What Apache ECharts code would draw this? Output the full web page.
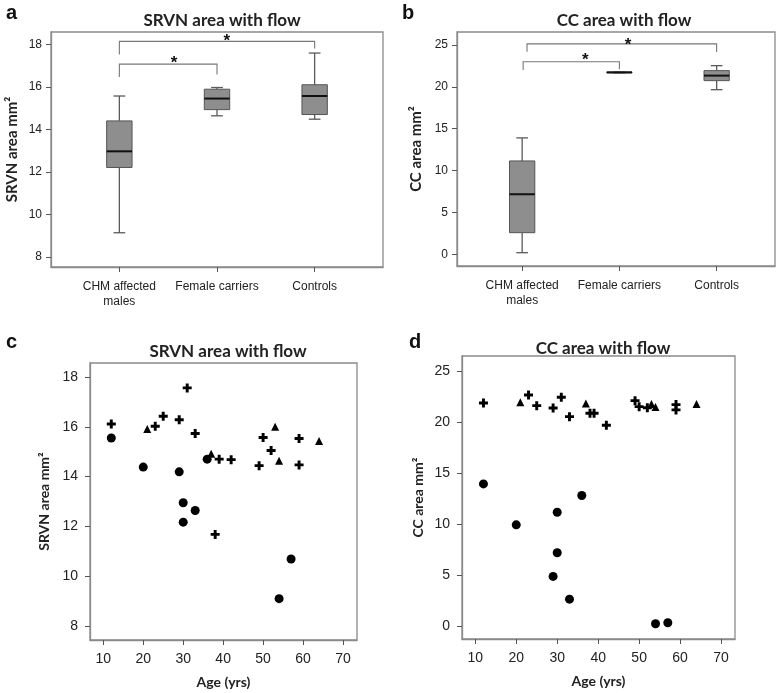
<!DOCTYPE html>
<html>
<head>
<meta charset="utf-8">
<script src="https://cdn.jsdelivr.net/npm/echarts@6/dist/echarts.min.js"></script>
<style>
html,body{margin:0;padding:0;background:#fff;}
#chart{width:784px;height:693px;}
</style>
</head>
<body>
<div id="chart"></div>
<script>
// ---------- data ----------
const groups = ['CHM affected\nmales', 'Female carriers', 'Controls'];
const groupPos = [1, 2, 3];
// box stats: [min, Q1, median, Q3, max]
const srvnBoxChm = [9.14, 12.21, 12.97, 14.40, 15.57];
const srvnBoxFemale = [14.64, 14.93, 15.45, 15.89, 15.97];
const srvnBoxControl = [14.48, 14.70, 15.57, 16.10, 17.59];
const ccBoxChm = [0.19, 2.58, 7.17, 11.15, 13.90];
const ccBoxFemale = [21.68, 21.68, 21.72, 21.78, 21.78];
const ccBoxControl = [19.66, 20.74, 21.34, 21.94, 22.53];
// significance brackets: [x1, x2, top, leftEnd, rightEnd]
const srvnBrackets = [[1, 3, 18.14, 17.52, 17.80], [1, 2, 17.07, 16.46, 16.58]];
const srvnStars = [[2.10, 18.34], [1.56, 17.29]];
const ccBrackets = [[1.05, 3, 25.13, 24.20, 24.17], [1.01, 2, 23.00, 22.02, 22.10]];
const ccStars = [[2.09, 25.48], [1.65, 23.70]];
// scatter data
const chmAge = [12, 20, 29, 30, 30, 33, 36, 54, 57];
const chmSrvn = [15.55, 14.38, 14.19, 12.95, 12.17, 12.64, 14.70, 9.10, 10.69];
const chmCc = [13.92, 9.90, 4.84, 11.14, 7.16, 2.61, 12.78, 0.20, 0.29];
const femAge = [21, 37, 53, 54, 64];
const femSrvn = [15.91, 14.92, 16.00, 14.64, 15.43];
const femCc = [21.93, 21.80, 21.76, 21.47, 21.76];
const ctlAge = [12, 23, 25, 29, 31, 33, 38, 39, 42, 49, 50, 52, 59, 59];
const ctlSrvn = [16.11, 16.02, 16.42, 16.28, 17.56, 15.73, 11.68, 14.70, 14.68, 14.44, 15.57, 15.05, 15.53, 14.47];
const ctlCc = [21.86, 22.65, 21.60, 21.37, 22.42, 20.52, 20.85, 20.85, 19.67, 22.09, 21.50, 21.40, 21.70, 21.18];
// tick labels
const srvnTicks = [8, 10, 12, 14, 16, 18];
const ccTicks = [0, 5, 10, 15, 20, 25];
const ageTicks = [10, 20, 30, 40, 50, 60, 70];

// ---------- helpers ----------
const boxRows = (arr) => arr.map((s, i) => [groupPos[i]].concat(s));
const zip = (a, b) => a.map((v, i) => [v, b[i]]);
const FRAME = '#8a8a8a';
const TXT = '#222';
const plusPath = 'path://M2.7,0 L5.3,0 L5.3,2.7 L8,2.7 L8,5.3 L5.3,5.3 L5.3,8 L2.7,8 L2.7,5.3 L0,5.3 L0,2.7 L2.7,2.7 Z';
const markStyle = {color: '#000', opacity: 1};

function boxRender(params, api) {
  const x = api.value(0);
  const hw = 0.13, cw = 0.06;
  const mn = api.value(1), q1 = api.value(2), md = api.value(3), q3 = api.value(4), mx = api.value(5);
  const p = (xx, yy) => api.coord([xx, yy]);
  const tl = p(x - hw, q3), br = p(x + hw, q1);
  const ls = {stroke: '#5a5a5a', lineWidth: 1.3};
  return {
    type: 'group',
    children: [
      {type: 'line', shape: {x1: p(x, mn)[0], y1: p(x, mn)[1], x2: p(x, q1)[0], y2: p(x, q1)[1]}, style: ls},
      {type: 'line', shape: {x1: p(x, q3)[0], y1: p(x, q3)[1], x2: p(x, mx)[0], y2: p(x, mx)[1]}, style: ls},
      {type: 'line', shape: {x1: p(x - cw, mn)[0], y1: p(x - cw, mn)[1], x2: p(x + cw, mn)[0], y2: p(x + cw, mn)[1]}, style: ls},
      {type: 'line', shape: {x1: p(x - cw, mx)[0], y1: p(x - cw, mx)[1], x2: p(x + cw, mx)[0], y2: p(x + cw, mx)[1]}, style: ls},
      {type: 'rect', shape: {x: tl[0], y: tl[1], width: br[0] - tl[0], height: br[1] - tl[1]},
        style: {fill: '#8e8e8e', stroke: '#555', lineWidth: 1}},
      {type: 'line', shape: {x1: p(x - hw, md)[0], y1: p(x - hw, md)[1], x2: p(x + hw, md)[0], y2: p(x + hw, md)[1]},
        style: {stroke: '#111', lineWidth: 2}}
    ]
  };
}
function bracketRender(params, api) {
  const x1 = api.value(0), x2 = api.value(1), t = api.value(2), l = api.value(3), r = api.value(4);
  const a = api.coord([x1, l]), b = api.coord([x1, t]), c = api.coord([x2, t]), d = api.coord([x2, r]);
  return {type: 'polyline', shape: {points: [a, b, c, d]}, style: {stroke: '#777', lineWidth: 1.1, fill: null}};
}
function starRender(params, api) {
  const c = api.coord([api.value(0), api.value(1)]);
  return {type: 'text', x: c[0], y: c[1] + 4,
    style: {text: '*', font: 'bold 17px "Liberation Sans", Arial', fill: '#111', align: 'center', verticalAlign: 'middle'}};
}

function yAxisCfg(idx, min, max, ticks, name, gap, fs, margin) {
  return {
    type: 'value', gridIndex: idx, min: min, max: max,
    name: name, nameLocation: 'middle', nameGap: gap,
    nameTextStyle: {fontFamily: 'Lato', fontWeight: 'bold', fontSize: fs, color: TXT},
    axisLine: {show: true, onZero: false, lineStyle: {color: FRAME, width: 1.3}},
    axisTick: {show: true, length: 5, customValues: ticks, lineStyle: {color: '#555'}},
    axisLabel: {customValues: ticks, color: TXT, fontFamily: 'Liberation Sans', fontSize: idx < 2 ? 12 : 14, margin: margin},
    splitLine: {show: false}
  };
}
function xCatAxis(idx, min, max) {
  return {type: 'value', gridIndex: idx, min: min, max: max,
    axisLine: {show: true, onZero: false, lineStyle: {color: FRAME, width: 1.3}},
    axisTick: {show: true, length: 5, customValues: groupPos, lineStyle: {color: '#555'}},
    axisLabel: {customValues: groupPos, formatter: (v) => groups[Math.round(v) - 1], color: TXT, fontFamily: 'Liberation Sans', fontSize: 12, lineHeight: 15, margin: 12},
    splitLine: {show: false}};
}
function xAgeAxis(idx, min, max) {
  return {type: 'value', gridIndex: idx, min: min, max: max, name: 'Age (yrs)', nameLocation: 'middle', nameGap: 35,
    nameTextStyle: {fontFamily: 'Lato', fontWeight: 'bold', fontSize: 14, color: TXT},
    axisLine: {show: true, onZero: false, lineStyle: {color: FRAME, width: 1.3}},
    axisTick: {show: true, length: 5, customValues: ageTicks, lineStyle: {color: '#555'}},
    axisLabel: {customValues: ageTicks, color: TXT, fontFamily: 'Liberation Sans', fontSize: 14, margin: 12},
    splitLine: {show: false}};
}
const titleStyle = {fontFamily: 'Lato', fontWeight: 'bold', fontSize: 17, color: TXT};
const letterStyle = {fontFamily: 'Liberation Sans', fontWeight: 'bold', fontSize: 20, color: '#111'};

const option = {
  animation: false,
  backgroundColor: '#fff',
  title: [
    {text: 'SRVN area with flow', left: 217, top: 7, textAlign: 'center', textStyle: titleStyle},
    {text: 'CC area with flow', left: 619, top: 7, textAlign: 'center', textStyle: titleStyle},
    {text: 'SRVN area with flow', left: 223, top: 338, textAlign: 'center', textStyle: titleStyle},
    {text: 'CC area with flow', left: 598, top: 335, textAlign: 'center', textStyle: titleStyle},
    {text: 'a', left: 1, top: -2, textStyle: letterStyle},
    {text: 'b', left: 397, top: -2, textStyle: letterStyle},
    {text: 'c', left: 1, top: 327, textStyle: letterStyle},
    {text: 'd', left: 404, top: 327, textStyle: letterStyle}
  ],
  grid: [
    {left: 51, top: 32, width: 332, height: 235, show: true, borderColor: FRAME, borderWidth: 1.3},
    {left: 457, top: 32, width: 318, height: 234, show: true, borderColor: FRAME, borderWidth: 1.3},
    {left: 90, top: 363, width: 267, height: 277, show: true, borderColor: FRAME, borderWidth: 1.3},
    {left: 462, top: 356, width: 273, height: 283, show: true, borderColor: FRAME, borderWidth: 1.3}
  ],
  xAxis: [
    xCatAxis(0, 0.3, 3.7),
    xCatAxis(1, 0.33, 3.6),
    xAgeAxis(2, 6.67, 73.5),
    xAgeAxis(3, 6.76, 73.4)
  ],
  yAxis: [
    yAxisCfg(0, 7.53, 18.58, srvnTicks, 'SRVN area mm²', 31, 15, 9),
    yAxisCfg(1, -1.4, 26.55, ccTicks, 'CC area mm²', 33, 15, 9),
    yAxisCfg(2, 7.44, 18.56, srvnTicks, 'SRVN area mm²', 39, 14, 12),
    yAxisCfg(3, -1.3, 26.47, ccTicks, 'CC area mm²', 37, 14, 12)
  ],
  series: [
    {type: 'custom', xAxisIndex: 0, yAxisIndex: 0, renderItem: boxRender, data: boxRows([srvnBoxChm, srvnBoxFemale, srvnBoxControl]), encode: {x: 0, y: [1, 2, 3, 4, 5]}},
    {type: 'custom', xAxisIndex: 1, yAxisIndex: 1, renderItem: boxRender, data: boxRows([ccBoxChm, ccBoxFemale, ccBoxControl]), encode: {x: 0, y: [1, 2, 3, 4, 5]}},
    {type: 'custom', xAxisIndex: 0, yAxisIndex: 0, renderItem: bracketRender, data: srvnBrackets, encode: {x: [0, 1], y: [2, 3, 4]}},
    {type: 'custom', xAxisIndex: 1, yAxisIndex: 1, renderItem: bracketRender, data: ccBrackets, encode: {x: [0, 1], y: [2, 3, 4]}},
    {type: 'custom', xAxisIndex: 0, yAxisIndex: 0, renderItem: starRender, data: srvnStars},
    {type: 'custom', xAxisIndex: 1, yAxisIndex: 1, renderItem: starRender, data: ccStars},
    {type: 'scatter', xAxisIndex: 2, yAxisIndex: 2, symbol: 'circle', symbolSize: 9, itemStyle: markStyle, data: zip(chmAge, chmSrvn)},
    {type: 'scatter', xAxisIndex: 2, yAxisIndex: 2, symbol: 'triangle', symbolSize: 8, itemStyle: markStyle, data: zip(femAge, femSrvn)},
    {type: 'scatter', xAxisIndex: 2, yAxisIndex: 2, symbol: plusPath, symbolSize: 9, itemStyle: markStyle, data: zip(ctlAge, ctlSrvn)},
    {type: 'scatter', xAxisIndex: 3, yAxisIndex: 3, symbol: 'circle', symbolSize: 9, itemStyle: markStyle, data: zip(chmAge, chmCc)},
    {type: 'scatter', xAxisIndex: 3, yAxisIndex: 3, symbol: 'triangle', symbolSize: 8, itemStyle: markStyle, data: zip(femAge, femCc)},
    {type: 'scatter', xAxisIndex: 3, yAxisIndex: 3, symbol: plusPath, symbolSize: 9, itemStyle: markStyle, data: zip(ctlAge, ctlCc)}
  ]
};
const chart = echarts.init(document.getElementById('chart'), null, {renderer: 'canvas'});
chart.setOption(option);
</script>
</body>
</html>
